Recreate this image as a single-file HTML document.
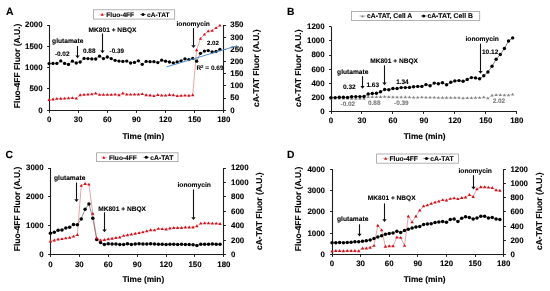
<!DOCTYPE html><html><head><meta charset="utf-8"><style>html,body{margin:0;padding:0;background:#fff;width:550px;height:291px;overflow:hidden}</style></head><body><svg width="550" height="291" viewBox="0 0 550 291" style="display:block;filter:blur(0.45px)">
<g font-family='"Liberation Sans", sans-serif' text-rendering="geometricPrecision">
<rect width="550" height="291" fill="#fff"/>
<text x="5.90" y="15.00" font-size="10.4" font-weight="bold" text-anchor="start" fill="#000" stroke="#000" stroke-width="0.12" >A</text>
<line x1="49.50" y1="25.00" x2="49.50" y2="111.10" stroke="#1e1e1e" stroke-width="1.1"/>
<line x1="47.10" y1="110.50" x2="49.50" y2="110.50" stroke="#1e1e1e" stroke-width="1.0"/>
<text x="42.60" y="112.60" font-size="7.9" font-weight="bold" text-anchor="end" fill="#000" stroke="#000" stroke-width="0.12" >0</text>
<line x1="47.10" y1="88.50" x2="49.50" y2="88.50" stroke="#1e1e1e" stroke-width="1.0"/>
<text x="42.60" y="91.30" font-size="7.9" font-weight="bold" text-anchor="end" fill="#000" stroke="#000" stroke-width="0.12" >500</text>
<line x1="47.10" y1="67.50" x2="49.50" y2="67.50" stroke="#1e1e1e" stroke-width="1.0"/>
<text x="42.60" y="70.00" font-size="7.9" font-weight="bold" text-anchor="end" fill="#000" stroke="#000" stroke-width="0.12" >1000</text>
<line x1="47.10" y1="46.50" x2="49.50" y2="46.50" stroke="#1e1e1e" stroke-width="1.0"/>
<text x="42.60" y="48.70" font-size="7.9" font-weight="bold" text-anchor="end" fill="#000" stroke="#000" stroke-width="0.12" >1500</text>
<line x1="47.10" y1="25.50" x2="49.50" y2="25.50" stroke="#1e1e1e" stroke-width="1.0"/>
<text x="42.60" y="27.40" font-size="7.9" font-weight="bold" text-anchor="end" fill="#000" stroke="#000" stroke-width="0.12" >2000</text>
<line x1="223.50" y1="25.00" x2="223.50" y2="111.10" stroke="#1e1e1e" stroke-width="1.1"/>
<line x1="223.50" y1="110.50" x2="225.90" y2="110.50" stroke="#1e1e1e" stroke-width="1.0"/>
<text x="230.30" y="112.60" font-size="7.9" font-weight="bold" text-anchor="start" fill="#000" stroke="#000" stroke-width="0.12" >0</text>
<line x1="223.50" y1="98.50" x2="225.90" y2="98.50" stroke="#1e1e1e" stroke-width="1.0"/>
<text x="230.30" y="100.43" font-size="7.9" font-weight="bold" text-anchor="start" fill="#000" stroke="#000" stroke-width="0.12" >50</text>
<line x1="223.50" y1="85.50" x2="225.90" y2="85.50" stroke="#1e1e1e" stroke-width="1.0"/>
<text x="230.30" y="88.26" font-size="7.9" font-weight="bold" text-anchor="start" fill="#000" stroke="#000" stroke-width="0.12" >100</text>
<line x1="223.50" y1="73.50" x2="225.90" y2="73.50" stroke="#1e1e1e" stroke-width="1.0"/>
<text x="230.30" y="76.09" font-size="7.9" font-weight="bold" text-anchor="start" fill="#000" stroke="#000" stroke-width="0.12" >150</text>
<line x1="223.50" y1="61.50" x2="225.90" y2="61.50" stroke="#1e1e1e" stroke-width="1.0"/>
<text x="230.30" y="63.91" font-size="7.9" font-weight="bold" text-anchor="start" fill="#000" stroke="#000" stroke-width="0.12" >200</text>
<line x1="223.50" y1="49.50" x2="225.90" y2="49.50" stroke="#1e1e1e" stroke-width="1.0"/>
<text x="230.30" y="51.74" font-size="7.9" font-weight="bold" text-anchor="start" fill="#000" stroke="#000" stroke-width="0.12" >250</text>
<line x1="223.50" y1="37.50" x2="225.90" y2="37.50" stroke="#1e1e1e" stroke-width="1.0"/>
<text x="230.30" y="39.57" font-size="7.9" font-weight="bold" text-anchor="start" fill="#000" stroke="#000" stroke-width="0.12" >300</text>
<line x1="223.50" y1="25.50" x2="225.90" y2="25.50" stroke="#1e1e1e" stroke-width="1.0"/>
<text x="230.30" y="27.40" font-size="7.9" font-weight="bold" text-anchor="start" fill="#000" stroke="#000" stroke-width="0.12" >350</text>
<line x1="49.00" y1="110.50" x2="224.00" y2="110.50" stroke="#1e1e1e" stroke-width="1.1"/>
<line x1="49.50" y1="110.50" x2="49.50" y2="112.90" stroke="#1e1e1e" stroke-width="1.0"/>
<text x="49.10" y="122.40" font-size="7.9" font-weight="bold" text-anchor="middle" fill="#000" stroke="#000" stroke-width="0.12" >0</text>
<line x1="78.50" y1="110.50" x2="78.50" y2="112.90" stroke="#1e1e1e" stroke-width="1.0"/>
<text x="78.22" y="122.40" font-size="7.9" font-weight="bold" text-anchor="middle" fill="#000" stroke="#000" stroke-width="0.12" >30</text>
<line x1="107.50" y1="110.50" x2="107.50" y2="112.90" stroke="#1e1e1e" stroke-width="1.0"/>
<text x="107.33" y="122.40" font-size="7.9" font-weight="bold" text-anchor="middle" fill="#000" stroke="#000" stroke-width="0.12" >60</text>
<line x1="136.50" y1="110.50" x2="136.50" y2="112.90" stroke="#1e1e1e" stroke-width="1.0"/>
<text x="136.45" y="122.40" font-size="7.9" font-weight="bold" text-anchor="middle" fill="#000" stroke="#000" stroke-width="0.12" >90</text>
<line x1="165.50" y1="110.50" x2="165.50" y2="112.90" stroke="#1e1e1e" stroke-width="1.0"/>
<text x="165.57" y="122.40" font-size="7.9" font-weight="bold" text-anchor="middle" fill="#000" stroke="#000" stroke-width="0.12" >120</text>
<line x1="194.50" y1="110.50" x2="194.50" y2="112.90" stroke="#1e1e1e" stroke-width="1.0"/>
<text x="194.68" y="122.40" font-size="7.9" font-weight="bold" text-anchor="middle" fill="#000" stroke="#000" stroke-width="0.12" >150</text>
<line x1="223.50" y1="110.50" x2="223.50" y2="112.90" stroke="#1e1e1e" stroke-width="1.0"/>
<text x="223.80" y="122.40" font-size="7.9" font-weight="bold" text-anchor="middle" fill="#000" stroke="#000" stroke-width="0.12" >180</text>
<text x="143.30" y="139.20" font-size="8.3" font-weight="bold" text-anchor="middle" fill="#000" stroke="#000" stroke-width="0.12" >Time (min)</text>
<text transform="translate(16.50,65.90) rotate(-90)" x="0" y="3.06" font-size="8.5" font-weight="bold" text-anchor="middle" fill="#000" stroke="#000" stroke-width="0.12">Fluo-4FF Fluor (A.U.)</text>
<text transform="translate(255.90,68.30) rotate(-90)" x="0" y="3.06" font-size="8.5" font-weight="bold" text-anchor="middle" fill="#000" stroke="#000" stroke-width="0.12">cA-TAT Fluor (A.U.)</text>
<rect x="93.50" y="9.80" width="81.20" height="9.30" fill="#fff" stroke="#a0a0a0" stroke-width="0.8"/>
<line x1="99.30" y1="14.30" x2="105.30" y2="14.30" stroke="#de8088" stroke-width="0.6"/>
<path d="M100.60 15.64L103.80 15.64L102.20 12.92Z" fill="#d0101a"/>
<text x="106.30" y="16.70" font-size="6.6" font-weight="bold" text-anchor="start" fill="#000" stroke="#000" stroke-width="0.1" >Fluo-4FF</text>
<line x1="140.30" y1="14.40" x2="145.80" y2="14.40" stroke="#000" stroke-width="0.6"/>
<circle cx="143.00" cy="14.40" r="1.5" fill="#000"/>
<text x="147.00" y="16.70" font-size="6.6" font-weight="bold" text-anchor="start" fill="#000" stroke="#000" stroke-width="0.1" >cA-TAT</text>
<polyline points="49.10,99.70 52.98,99.20 56.86,98.60 60.75,98.50 64.63,98.30 68.51,98.10 72.39,97.90 76.28,98.30 80.16,95.00 84.04,94.60 87.92,94.30 91.80,94.10 95.69,93.20 99.57,94.60 103.45,94.60 107.33,94.60 111.22,94.60 115.10,94.30 118.98,95.00 122.86,93.20 126.74,94.30 130.63,94.30 134.51,94.30 138.39,94.30 142.27,93.90 146.16,95.00 150.04,95.20 153.92,95.80 157.80,94.70 161.68,95.30 165.57,95.30 169.45,94.70 173.33,95.00 177.21,95.80 181.10,95.60 184.98,95.30 188.86,95.50 192.74,95.00 196.62,50.00 200.51,38.60 204.39,34.40 208.27,31.10 212.15,30.60 216.04,27.80 219.92,25.40" fill="none" stroke="#de8088" stroke-width="0.7"/>
<polyline points="49.10,63.60 52.98,63.40 56.86,63.40 60.75,60.90 64.63,63.40 68.51,64.40 72.39,61.20 76.28,63.00 80.16,62.00 84.04,58.40 87.92,58.60 91.80,58.90 95.69,59.00 99.57,56.20 103.45,58.60 107.33,57.00 111.22,58.60 115.10,60.30 118.98,61.10 122.86,61.40 126.74,61.10 130.63,63.00 134.51,62.40 138.39,60.80 142.27,64.30 146.16,61.40 150.04,61.70 153.92,61.70 157.80,62.60 161.68,60.20 165.57,61.20 169.45,62.00 173.33,62.90 177.21,62.00 181.10,60.80 184.98,58.80 188.86,59.60 192.74,58.40 196.62,61.20 200.51,53.30 204.39,51.10 208.27,50.60 212.15,51.90 216.04,51.50 219.92,49.40" fill="none" stroke="#444" stroke-width="0.5"/>
<circle cx="49.10" cy="63.60" r="1.65" fill="#000"/>
<circle cx="52.98" cy="63.40" r="1.65" fill="#000"/>
<circle cx="56.86" cy="63.40" r="1.65" fill="#000"/>
<circle cx="60.75" cy="60.90" r="1.65" fill="#000"/>
<circle cx="64.63" cy="63.40" r="1.65" fill="#000"/>
<circle cx="68.51" cy="64.40" r="1.65" fill="#000"/>
<circle cx="72.39" cy="61.20" r="1.65" fill="#000"/>
<circle cx="76.28" cy="63.00" r="1.65" fill="#000"/>
<circle cx="80.16" cy="62.00" r="1.65" fill="#000"/>
<circle cx="84.04" cy="58.40" r="1.65" fill="#000"/>
<circle cx="87.92" cy="58.60" r="1.65" fill="#000"/>
<circle cx="91.80" cy="58.90" r="1.65" fill="#000"/>
<circle cx="95.69" cy="59.00" r="1.65" fill="#000"/>
<circle cx="99.57" cy="56.20" r="1.65" fill="#000"/>
<circle cx="103.45" cy="58.60" r="1.65" fill="#000"/>
<circle cx="107.33" cy="57.00" r="1.65" fill="#000"/>
<circle cx="111.22" cy="58.60" r="1.65" fill="#000"/>
<circle cx="115.10" cy="60.30" r="1.65" fill="#000"/>
<circle cx="118.98" cy="61.10" r="1.65" fill="#000"/>
<circle cx="122.86" cy="61.40" r="1.65" fill="#000"/>
<circle cx="126.74" cy="61.10" r="1.65" fill="#000"/>
<circle cx="130.63" cy="63.00" r="1.65" fill="#000"/>
<circle cx="134.51" cy="62.40" r="1.65" fill="#000"/>
<circle cx="138.39" cy="60.80" r="1.65" fill="#000"/>
<circle cx="142.27" cy="64.30" r="1.65" fill="#000"/>
<circle cx="146.16" cy="61.40" r="1.65" fill="#000"/>
<circle cx="150.04" cy="61.70" r="1.65" fill="#000"/>
<circle cx="153.92" cy="61.70" r="1.65" fill="#000"/>
<circle cx="157.80" cy="62.60" r="1.65" fill="#000"/>
<circle cx="161.68" cy="60.20" r="1.65" fill="#000"/>
<circle cx="165.57" cy="61.20" r="1.65" fill="#000"/>
<circle cx="169.45" cy="62.00" r="1.65" fill="#000"/>
<circle cx="173.33" cy="62.90" r="1.65" fill="#000"/>
<circle cx="177.21" cy="62.00" r="1.65" fill="#000"/>
<circle cx="181.10" cy="60.80" r="1.65" fill="#000"/>
<circle cx="184.98" cy="58.80" r="1.65" fill="#000"/>
<circle cx="188.86" cy="59.60" r="1.65" fill="#000"/>
<circle cx="192.74" cy="58.40" r="1.65" fill="#000"/>
<circle cx="196.62" cy="61.20" r="1.65" fill="#000"/>
<circle cx="200.51" cy="53.30" r="1.65" fill="#000"/>
<circle cx="204.39" cy="51.10" r="1.65" fill="#000"/>
<circle cx="208.27" cy="50.60" r="1.65" fill="#000"/>
<circle cx="212.15" cy="51.90" r="1.65" fill="#000"/>
<circle cx="216.04" cy="51.50" r="1.65" fill="#000"/>
<circle cx="219.92" cy="49.40" r="1.65" fill="#000"/>
<path d="M47.45 100.88L50.75 100.88L49.10 98.07Z" fill="#d0101a"/>
<path d="M51.33 100.38L54.63 100.38L52.98 97.57Z" fill="#d0101a"/>
<path d="M55.21 99.78L58.51 99.78L56.86 96.97Z" fill="#d0101a"/>
<path d="M59.10 99.68L62.40 99.68L60.75 96.87Z" fill="#d0101a"/>
<path d="M62.98 99.48L66.28 99.48L64.63 96.67Z" fill="#d0101a"/>
<path d="M66.86 99.28L70.16 99.28L68.51 96.47Z" fill="#d0101a"/>
<path d="M70.74 99.08L74.04 99.08L72.39 96.27Z" fill="#d0101a"/>
<path d="M74.63 99.48L77.93 99.48L76.28 96.67Z" fill="#d0101a"/>
<path d="M78.51 96.18L81.81 96.18L80.16 93.37Z" fill="#d0101a"/>
<path d="M82.39 95.78L85.69 95.78L84.04 92.97Z" fill="#d0101a"/>
<path d="M86.27 95.48L89.57 95.48L87.92 92.67Z" fill="#d0101a"/>
<path d="M90.15 95.28L93.45 95.28L91.80 92.47Z" fill="#d0101a"/>
<path d="M94.04 94.38L97.34 94.38L95.69 91.57Z" fill="#d0101a"/>
<path d="M97.92 95.78L101.22 95.78L99.57 92.97Z" fill="#d0101a"/>
<path d="M101.80 95.78L105.10 95.78L103.45 92.97Z" fill="#d0101a"/>
<path d="M105.68 95.78L108.98 95.78L107.33 92.97Z" fill="#d0101a"/>
<path d="M109.57 95.78L112.87 95.78L111.22 92.97Z" fill="#d0101a"/>
<path d="M113.45 95.48L116.75 95.48L115.10 92.67Z" fill="#d0101a"/>
<path d="M117.33 96.18L120.63 96.18L118.98 93.37Z" fill="#d0101a"/>
<path d="M121.21 94.38L124.51 94.38L122.86 91.57Z" fill="#d0101a"/>
<path d="M125.09 95.48L128.39 95.48L126.74 92.67Z" fill="#d0101a"/>
<path d="M128.98 95.48L132.28 95.48L130.63 92.67Z" fill="#d0101a"/>
<path d="M132.86 95.48L136.16 95.48L134.51 92.67Z" fill="#d0101a"/>
<path d="M136.74 95.48L140.04 95.48L138.39 92.67Z" fill="#d0101a"/>
<path d="M140.62 95.08L143.92 95.08L142.27 92.27Z" fill="#d0101a"/>
<path d="M144.51 96.18L147.81 96.18L146.16 93.37Z" fill="#d0101a"/>
<path d="M148.39 96.38L151.69 96.38L150.04 93.57Z" fill="#d0101a"/>
<path d="M152.27 96.98L155.57 96.98L153.92 94.17Z" fill="#d0101a"/>
<path d="M156.15 95.88L159.45 95.88L157.80 93.07Z" fill="#d0101a"/>
<path d="M160.03 96.48L163.33 96.48L161.68 93.67Z" fill="#d0101a"/>
<path d="M163.92 96.48L167.22 96.48L165.57 93.67Z" fill="#d0101a"/>
<path d="M167.80 95.88L171.10 95.88L169.45 93.07Z" fill="#d0101a"/>
<path d="M171.68 96.18L174.98 96.18L173.33 93.37Z" fill="#d0101a"/>
<path d="M175.56 96.98L178.86 96.98L177.21 94.17Z" fill="#d0101a"/>
<path d="M179.45 96.78L182.75 96.78L181.10 93.97Z" fill="#d0101a"/>
<path d="M183.33 96.48L186.63 96.48L184.98 93.67Z" fill="#d0101a"/>
<path d="M187.21 96.68L190.51 96.68L188.86 93.87Z" fill="#d0101a"/>
<path d="M191.09 96.18L194.39 96.18L192.74 93.37Z" fill="#d0101a"/>
<path d="M194.97 51.18L198.27 51.18L196.62 48.37Z" fill="#d0101a"/>
<path d="M198.86 39.78L202.16 39.78L200.51 36.97Z" fill="#d0101a"/>
<path d="M202.74 35.58L206.04 35.58L204.39 32.77Z" fill="#d0101a"/>
<path d="M206.62 32.28L209.92 32.28L208.27 29.47Z" fill="#d0101a"/>
<path d="M210.50 31.78L213.80 31.78L212.15 28.97Z" fill="#d0101a"/>
<path d="M214.39 28.98L217.69 28.98L216.04 26.17Z" fill="#d0101a"/>
<path d="M218.27 26.58L221.57 26.58L219.92 23.77Z" fill="#d0101a"/>
<line x1="166.50" y1="66.90" x2="237.00" y2="45.80" stroke="#4f8fca" stroke-width="1.0"/>
<text x="52.10" y="43.40" font-size="6.65" font-weight="bold" text-anchor="start" fill="#000" stroke="#000" stroke-width="0.1" >glutamate</text>
<line x1="77.50" y1="46.00" x2="77.50" y2="56.00" stroke="#111" stroke-width="1.1"/>
<path d="M75.30 55.50L79.70 55.50L77.50 58.30Z" fill="#111"/>
<text x="54.90" y="56.00" font-size="6.4" font-weight="bold" text-anchor="start" fill="#000" stroke="#000" stroke-width="0.1" >-0.02</text>
<text x="83.00" y="52.70" font-size="6.4" font-weight="bold" text-anchor="start" fill="#000" stroke="#000" stroke-width="0.1" >0.88</text>
<text x="88.60" y="32.00" font-size="6.6" font-weight="bold" text-anchor="start" fill="#000" stroke="#000" stroke-width="0.1" >MK801 + NBQX</text>
<line x1="102.50" y1="33.50" x2="102.50" y2="51.00" stroke="#111" stroke-width="1.1"/>
<path d="M100.30 50.50L104.70 50.50L102.50 53.30Z" fill="#111"/>
<text x="109.60" y="52.70" font-size="6.3" font-weight="bold" text-anchor="start" fill="#000" stroke="#000" stroke-width="0.1" >-0.39</text>
<text x="176.50" y="25.60" font-size="6.7" font-weight="bold" text-anchor="start" fill="#000" stroke="#000" stroke-width="0.1" >ionomycin</text>
<line x1="193.50" y1="28.00" x2="193.50" y2="45.70" stroke="#111" stroke-width="1.1"/>
<path d="M191.30 45.20L195.70 45.20L193.50 48.00Z" fill="#111"/>
<text x="207.00" y="44.80" font-size="6.1" font-weight="bold" text-anchor="start" fill="#000" stroke="#000" stroke-width="0.1" >2.02</text>
<text x="196.4" y="69.8" font-size="6.5" font-weight="bold" fill="#000" stroke="#000" stroke-width="0.06">R<tspan font-size="4.3" dy="-2.3">2</tspan><tspan dy="2.3"> = 0.69</tspan></text>
<text x="286.90" y="14.80" font-size="10.3" font-weight="bold" text-anchor="start" fill="#000" stroke="#000" stroke-width="0.12" >B</text>
<line x1="331.50" y1="26.90" x2="331.50" y2="112.10" stroke="#1e1e1e" stroke-width="1.1"/>
<line x1="329.10" y1="111.50" x2="331.50" y2="111.50" stroke="#1e1e1e" stroke-width="1.0"/>
<text x="324.60" y="113.70" font-size="7.9" font-weight="bold" text-anchor="end" fill="#000" stroke="#000" stroke-width="0.12" >0</text>
<line x1="329.10" y1="97.50" x2="331.50" y2="97.50" stroke="#1e1e1e" stroke-width="1.0"/>
<text x="324.60" y="99.63" font-size="7.9" font-weight="bold" text-anchor="end" fill="#000" stroke="#000" stroke-width="0.12" >200</text>
<line x1="329.10" y1="83.50" x2="331.50" y2="83.50" stroke="#1e1e1e" stroke-width="1.0"/>
<text x="324.60" y="85.57" font-size="7.9" font-weight="bold" text-anchor="end" fill="#000" stroke="#000" stroke-width="0.12" >400</text>
<line x1="329.10" y1="69.50" x2="331.50" y2="69.50" stroke="#1e1e1e" stroke-width="1.0"/>
<text x="324.60" y="71.50" font-size="7.9" font-weight="bold" text-anchor="end" fill="#000" stroke="#000" stroke-width="0.12" >600</text>
<line x1="329.10" y1="55.50" x2="331.50" y2="55.50" stroke="#1e1e1e" stroke-width="1.0"/>
<text x="324.60" y="57.43" font-size="7.9" font-weight="bold" text-anchor="end" fill="#000" stroke="#000" stroke-width="0.12" >800</text>
<line x1="329.10" y1="40.50" x2="331.50" y2="40.50" stroke="#1e1e1e" stroke-width="1.0"/>
<text x="324.60" y="43.37" font-size="7.9" font-weight="bold" text-anchor="end" fill="#000" stroke="#000" stroke-width="0.12" >1000</text>
<line x1="329.10" y1="26.50" x2="331.50" y2="26.50" stroke="#1e1e1e" stroke-width="1.0"/>
<text x="324.60" y="29.30" font-size="7.9" font-weight="bold" text-anchor="end" fill="#000" stroke="#000" stroke-width="0.12" >1200</text>
<line x1="331.00" y1="111.50" x2="517.00" y2="111.50" stroke="#1e1e1e" stroke-width="1.1"/>
<line x1="331.50" y1="111.50" x2="331.50" y2="113.90" stroke="#1e1e1e" stroke-width="1.0"/>
<text x="331.00" y="123.20" font-size="7.9" font-weight="bold" text-anchor="middle" fill="#000" stroke="#000" stroke-width="0.12" >0</text>
<line x1="361.50" y1="111.50" x2="361.50" y2="113.90" stroke="#1e1e1e" stroke-width="1.0"/>
<text x="361.97" y="123.20" font-size="7.9" font-weight="bold" text-anchor="middle" fill="#000" stroke="#000" stroke-width="0.12" >30</text>
<line x1="392.50" y1="111.50" x2="392.50" y2="113.90" stroke="#1e1e1e" stroke-width="1.0"/>
<text x="392.93" y="123.20" font-size="7.9" font-weight="bold" text-anchor="middle" fill="#000" stroke="#000" stroke-width="0.12" >60</text>
<line x1="423.50" y1="111.50" x2="423.50" y2="113.90" stroke="#1e1e1e" stroke-width="1.0"/>
<text x="423.90" y="123.20" font-size="7.9" font-weight="bold" text-anchor="middle" fill="#000" stroke="#000" stroke-width="0.12" >90</text>
<line x1="454.50" y1="111.50" x2="454.50" y2="113.90" stroke="#1e1e1e" stroke-width="1.0"/>
<text x="454.87" y="123.20" font-size="7.9" font-weight="bold" text-anchor="middle" fill="#000" stroke="#000" stroke-width="0.12" >120</text>
<line x1="485.50" y1="111.50" x2="485.50" y2="113.90" stroke="#1e1e1e" stroke-width="1.0"/>
<text x="485.83" y="123.20" font-size="7.9" font-weight="bold" text-anchor="middle" fill="#000" stroke="#000" stroke-width="0.12" >150</text>
<line x1="516.50" y1="111.50" x2="516.50" y2="113.90" stroke="#1e1e1e" stroke-width="1.0"/>
<text x="516.80" y="123.20" font-size="7.9" font-weight="bold" text-anchor="middle" fill="#000" stroke="#000" stroke-width="0.12" >180</text>
<text x="424.60" y="139.40" font-size="8.3" font-weight="bold" text-anchor="middle" fill="#000" stroke="#000" stroke-width="0.12" >Time (min)</text>
<text transform="translate(298.20,68.30) rotate(-90)" x="0" y="3.06" font-size="8.5" font-weight="bold" text-anchor="middle" fill="#000" stroke="#000" stroke-width="0.12">cA-TAT Fluor (A.U.)</text>
<rect x="351.50" y="11.50" width="128.20" height="9.00" fill="#fff" stroke="#a0a0a0" stroke-width="0.8"/>
<line x1="359.50" y1="16.00" x2="365.50" y2="16.00" stroke="#767676" stroke-width="0.6"/>
<path d="M361.20 17.13L363.80 17.13L362.50 14.92Z" fill="#767676"/>
<text x="367.10" y="18.40" font-size="6.8" font-weight="bold" text-anchor="start" fill="#000" stroke="#000" stroke-width="0.1" >cA-TAT, Cell A</text>
<line x1="421.00" y1="16.00" x2="426.50" y2="16.00" stroke="#000" stroke-width="0.6"/>
<circle cx="423.70" cy="16.00" r="1.5" fill="#000"/>
<text x="427.40" y="18.40" font-size="6.8" font-weight="bold" text-anchor="start" fill="#000" stroke="#000" stroke-width="0.1" >cA-TAT, Cell B</text>
<polyline points="331.00,98.30 335.13,98.30 339.26,98.30 343.39,98.30 347.52,98.30 351.64,98.60 355.77,98.60 359.90,98.60 364.03,98.60 368.16,96.80 372.29,96.80 376.42,96.90 380.55,96.80 384.68,96.60 388.80,96.80 392.93,97.00 397.06,97.00 401.19,97.00 405.32,97.20 409.45,97.20 413.58,97.40 417.71,97.40 421.84,97.20 425.96,97.40 430.09,97.40 434.22,97.40 438.35,97.60 442.48,97.60 446.61,97.60 450.74,97.60 454.87,97.60 459.00,97.60 463.12,98.10 467.25,97.90 471.38,97.90 475.51,97.50 479.64,97.50 483.77,97.20 487.90,98.10 492.03,95.40 496.16,94.80 500.28,94.80 504.41,95.00 508.54,95.00 512.67,94.30" fill="none" stroke="#b0b0b0" stroke-width="0.5"/>
<polyline points="331.00,97.70 335.13,97.60 339.26,97.30 343.39,97.30 347.52,97.40 351.64,96.70 355.77,96.60 359.90,96.60 364.03,96.50 368.16,94.00 372.29,93.50 376.42,93.30 380.55,91.80 384.68,89.50 388.80,89.80 392.93,88.50 397.06,88.50 401.19,87.60 405.32,87.60 409.45,87.40 413.58,86.70 417.71,86.40 421.84,86.40 425.96,84.60 430.09,85.70 434.22,83.10 438.35,83.70 442.48,82.70 446.61,84.80 450.74,82.30 454.87,80.90 459.00,80.60 463.12,81.30 467.25,79.50 471.38,77.60 475.51,77.90 479.64,78.80 483.77,75.80 487.90,72.00 492.03,66.30 496.16,59.30 500.28,54.50 504.41,48.50 508.54,41.00 512.67,37.90" fill="none" stroke="#333" stroke-width="0.6"/>
<path d="M329.40 99.44L332.60 99.44L331.00 96.72Z" fill="#858585"/>
<path d="M333.53 99.44L336.73 99.44L335.13 96.72Z" fill="#858585"/>
<path d="M337.66 99.44L340.86 99.44L339.26 96.72Z" fill="#858585"/>
<path d="M341.79 99.44L344.99 99.44L343.39 96.72Z" fill="#858585"/>
<path d="M345.92 99.44L349.12 99.44L347.52 96.72Z" fill="#858585"/>
<path d="M350.04 99.74L353.24 99.74L351.64 97.02Z" fill="#858585"/>
<path d="M354.17 99.74L357.37 99.74L355.77 97.02Z" fill="#858585"/>
<path d="M358.30 99.74L361.50 99.74L359.90 97.02Z" fill="#858585"/>
<path d="M362.43 99.74L365.63 99.74L364.03 97.02Z" fill="#858585"/>
<path d="M366.56 97.94L369.76 97.94L368.16 95.22Z" fill="#858585"/>
<path d="M370.69 97.94L373.89 97.94L372.29 95.22Z" fill="#858585"/>
<path d="M374.82 98.04L378.02 98.04L376.42 95.32Z" fill="#858585"/>
<path d="M378.95 97.94L382.15 97.94L380.55 95.22Z" fill="#858585"/>
<path d="M383.08 97.74L386.28 97.74L384.68 95.02Z" fill="#858585"/>
<path d="M387.20 97.94L390.40 97.94L388.80 95.22Z" fill="#858585"/>
<path d="M391.33 98.14L394.53 98.14L392.93 95.42Z" fill="#858585"/>
<path d="M395.46 98.14L398.66 98.14L397.06 95.42Z" fill="#858585"/>
<path d="M399.59 98.14L402.79 98.14L401.19 95.42Z" fill="#858585"/>
<path d="M403.72 98.34L406.92 98.34L405.32 95.62Z" fill="#858585"/>
<path d="M407.85 98.34L411.05 98.34L409.45 95.62Z" fill="#858585"/>
<path d="M411.98 98.54L415.18 98.54L413.58 95.82Z" fill="#858585"/>
<path d="M416.11 98.54L419.31 98.54L417.71 95.82Z" fill="#858585"/>
<path d="M420.24 98.34L423.44 98.34L421.84 95.62Z" fill="#858585"/>
<path d="M424.36 98.54L427.56 98.54L425.96 95.82Z" fill="#858585"/>
<path d="M428.49 98.54L431.69 98.54L430.09 95.82Z" fill="#858585"/>
<path d="M432.62 98.54L435.82 98.54L434.22 95.82Z" fill="#858585"/>
<path d="M436.75 98.74L439.95 98.74L438.35 96.02Z" fill="#858585"/>
<path d="M440.88 98.74L444.08 98.74L442.48 96.02Z" fill="#858585"/>
<path d="M445.01 98.74L448.21 98.74L446.61 96.02Z" fill="#858585"/>
<path d="M449.14 98.74L452.34 98.74L450.74 96.02Z" fill="#858585"/>
<path d="M453.27 98.74L456.47 98.74L454.87 96.02Z" fill="#858585"/>
<path d="M457.40 98.74L460.60 98.74L459.00 96.02Z" fill="#858585"/>
<path d="M461.52 99.24L464.72 99.24L463.12 96.52Z" fill="#858585"/>
<path d="M465.65 99.04L468.85 99.04L467.25 96.32Z" fill="#858585"/>
<path d="M469.78 99.04L472.98 99.04L471.38 96.32Z" fill="#858585"/>
<path d="M473.91 98.64L477.11 98.64L475.51 95.92Z" fill="#858585"/>
<path d="M478.04 98.64L481.24 98.64L479.64 95.92Z" fill="#858585"/>
<path d="M482.17 98.34L485.37 98.34L483.77 95.62Z" fill="#858585"/>
<path d="M486.30 99.24L489.50 99.24L487.90 96.52Z" fill="#858585"/>
<path d="M490.43 96.54L493.63 96.54L492.03 93.82Z" fill="#858585"/>
<path d="M494.56 95.94L497.76 95.94L496.16 93.22Z" fill="#858585"/>
<path d="M498.68 95.94L501.88 95.94L500.28 93.22Z" fill="#858585"/>
<path d="M502.81 96.14L506.01 96.14L504.41 93.42Z" fill="#858585"/>
<path d="M506.94 96.14L510.14 96.14L508.54 93.42Z" fill="#858585"/>
<path d="M511.07 95.44L514.27 95.44L512.67 92.72Z" fill="#858585"/>
<circle cx="331.00" cy="97.70" r="1.7" fill="#000"/>
<circle cx="335.13" cy="97.60" r="1.7" fill="#000"/>
<circle cx="339.26" cy="97.30" r="1.7" fill="#000"/>
<circle cx="343.39" cy="97.30" r="1.7" fill="#000"/>
<circle cx="347.52" cy="97.40" r="1.7" fill="#000"/>
<circle cx="351.64" cy="96.70" r="1.7" fill="#000"/>
<circle cx="355.77" cy="96.60" r="1.7" fill="#000"/>
<circle cx="359.90" cy="96.60" r="1.7" fill="#000"/>
<circle cx="364.03" cy="96.50" r="1.7" fill="#000"/>
<circle cx="368.16" cy="94.00" r="1.7" fill="#000"/>
<circle cx="372.29" cy="93.50" r="1.7" fill="#000"/>
<circle cx="376.42" cy="93.30" r="1.7" fill="#000"/>
<circle cx="380.55" cy="91.80" r="1.7" fill="#000"/>
<circle cx="384.68" cy="89.50" r="1.7" fill="#000"/>
<circle cx="388.80" cy="89.80" r="1.7" fill="#000"/>
<circle cx="392.93" cy="88.50" r="1.7" fill="#000"/>
<circle cx="397.06" cy="88.50" r="1.7" fill="#000"/>
<circle cx="401.19" cy="87.60" r="1.7" fill="#000"/>
<circle cx="405.32" cy="87.60" r="1.7" fill="#000"/>
<circle cx="409.45" cy="87.40" r="1.7" fill="#000"/>
<circle cx="413.58" cy="86.70" r="1.7" fill="#000"/>
<circle cx="417.71" cy="86.40" r="1.7" fill="#000"/>
<circle cx="421.84" cy="86.40" r="1.7" fill="#000"/>
<circle cx="425.96" cy="84.60" r="1.7" fill="#000"/>
<circle cx="430.09" cy="85.70" r="1.7" fill="#000"/>
<circle cx="434.22" cy="83.10" r="1.7" fill="#000"/>
<circle cx="438.35" cy="83.70" r="1.7" fill="#000"/>
<circle cx="442.48" cy="82.70" r="1.7" fill="#000"/>
<circle cx="446.61" cy="84.80" r="1.7" fill="#000"/>
<circle cx="450.74" cy="82.30" r="1.7" fill="#000"/>
<circle cx="454.87" cy="80.90" r="1.7" fill="#000"/>
<circle cx="459.00" cy="80.60" r="1.7" fill="#000"/>
<circle cx="463.12" cy="81.30" r="1.7" fill="#000"/>
<circle cx="467.25" cy="79.50" r="1.7" fill="#000"/>
<circle cx="471.38" cy="77.60" r="1.7" fill="#000"/>
<circle cx="475.51" cy="77.90" r="1.7" fill="#000"/>
<circle cx="479.64" cy="78.80" r="1.7" fill="#000"/>
<circle cx="483.77" cy="75.80" r="1.7" fill="#000"/>
<circle cx="487.90" cy="72.00" r="1.7" fill="#000"/>
<circle cx="492.03" cy="66.30" r="1.7" fill="#000"/>
<circle cx="496.16" cy="59.30" r="1.7" fill="#000"/>
<circle cx="500.28" cy="54.50" r="1.7" fill="#000"/>
<circle cx="504.41" cy="48.50" r="1.7" fill="#000"/>
<circle cx="508.54" cy="41.00" r="1.7" fill="#000"/>
<circle cx="512.67" cy="37.90" r="1.7" fill="#000"/>
<text x="337.10" y="73.50" font-size="6.65" font-weight="bold" text-anchor="start" fill="#000" stroke="#000" stroke-width="0.1" >glutamate</text>
<line x1="362.50" y1="76.20" x2="362.50" y2="86.40" stroke="#111" stroke-width="1.1"/>
<path d="M360.30 85.90L364.70 85.90L362.50 88.70Z" fill="#111"/>
<text x="343.00" y="88.70" font-size="6.5" font-weight="bold" text-anchor="start" fill="#000" stroke="#000" stroke-width="0.1" >0.32</text>
<text x="366.40" y="86.50" font-size="6.5" font-weight="bold" text-anchor="start" fill="#000" stroke="#000" stroke-width="0.1" >1.63</text>
<text x="340.60" y="105.80" font-size="6.4" font-weight="bold" text-anchor="start" fill="#7a7a7a" stroke="#7a7a7a" stroke-width="0.1" >-0.02</text>
<text x="368.00" y="105.00" font-size="6.4" font-weight="bold" text-anchor="start" fill="#7a7a7a" stroke="#7a7a7a" stroke-width="0.1" >0.88</text>
<text x="370.20" y="63.10" font-size="6.6" font-weight="bold" text-anchor="start" fill="#000" stroke="#000" stroke-width="0.1" >MK801 + NBQX</text>
<line x1="384.50" y1="65.30" x2="384.50" y2="83.00" stroke="#111" stroke-width="1.1"/>
<path d="M382.30 82.50L386.70 82.50L384.50 85.30Z" fill="#111"/>
<text x="396.20" y="83.90" font-size="6.4" font-weight="bold" text-anchor="start" fill="#000" stroke="#000" stroke-width="0.1" >1.34</text>
<text x="394.00" y="104.80" font-size="6.4" font-weight="bold" text-anchor="start" fill="#7a7a7a" stroke="#7a7a7a" stroke-width="0.1" >-0.39</text>
<text x="465.50" y="41.00" font-size="6.7" font-weight="bold" text-anchor="start" fill="#000" stroke="#000" stroke-width="0.1" >ionomycin</text>
<line x1="480.50" y1="43.60" x2="480.50" y2="71.40" stroke="#111" stroke-width="1.1"/>
<path d="M478.30 70.90L482.70 70.90L480.50 73.70Z" fill="#111"/>
<text x="482.00" y="53.50" font-size="6.5" font-weight="bold" text-anchor="start" fill="#000" stroke="#000" stroke-width="0.1" >10.12</text>
<text x="492.70" y="103.20" font-size="6.4" font-weight="bold" text-anchor="start" fill="#7a7a7a" stroke="#7a7a7a" stroke-width="0.1" >2.02</text>
<text x="5.60" y="158.30" font-size="10.4" font-weight="bold" text-anchor="start" fill="#000" stroke="#000" stroke-width="0.12" >C</text>
<line x1="50.50" y1="168.00" x2="50.50" y2="255.10" stroke="#1e1e1e" stroke-width="1.1"/>
<line x1="48.10" y1="254.50" x2="50.50" y2="254.50" stroke="#1e1e1e" stroke-width="1.0"/>
<text x="43.60" y="257.10" font-size="7.9" font-weight="bold" text-anchor="end" fill="#000" stroke="#000" stroke-width="0.12" >0</text>
<line x1="48.10" y1="225.50" x2="50.50" y2="225.50" stroke="#1e1e1e" stroke-width="1.0"/>
<text x="43.60" y="228.20" font-size="7.9" font-weight="bold" text-anchor="end" fill="#000" stroke="#000" stroke-width="0.12" >1000</text>
<line x1="48.10" y1="196.50" x2="50.50" y2="196.50" stroke="#1e1e1e" stroke-width="1.0"/>
<text x="43.60" y="199.30" font-size="7.9" font-weight="bold" text-anchor="end" fill="#000" stroke="#000" stroke-width="0.12" >2000</text>
<line x1="48.10" y1="168.50" x2="50.50" y2="168.50" stroke="#1e1e1e" stroke-width="1.0"/>
<text x="43.60" y="170.40" font-size="7.9" font-weight="bold" text-anchor="end" fill="#000" stroke="#000" stroke-width="0.12" >3000</text>
<line x1="223.50" y1="168.00" x2="223.50" y2="255.10" stroke="#1e1e1e" stroke-width="1.1"/>
<line x1="223.50" y1="254.50" x2="225.90" y2="254.50" stroke="#1e1e1e" stroke-width="1.0"/>
<text x="231.00" y="257.10" font-size="7.9" font-weight="bold" text-anchor="start" fill="#000" stroke="#000" stroke-width="0.12" >0</text>
<line x1="223.50" y1="240.50" x2="225.90" y2="240.50" stroke="#1e1e1e" stroke-width="1.0"/>
<text x="231.00" y="242.65" font-size="7.9" font-weight="bold" text-anchor="start" fill="#000" stroke="#000" stroke-width="0.12" >200</text>
<line x1="223.50" y1="225.50" x2="225.90" y2="225.50" stroke="#1e1e1e" stroke-width="1.0"/>
<text x="231.00" y="228.20" font-size="7.9" font-weight="bold" text-anchor="start" fill="#000" stroke="#000" stroke-width="0.12" >400</text>
<line x1="223.50" y1="211.50" x2="225.90" y2="211.50" stroke="#1e1e1e" stroke-width="1.0"/>
<text x="231.00" y="213.75" font-size="7.9" font-weight="bold" text-anchor="start" fill="#000" stroke="#000" stroke-width="0.12" >600</text>
<line x1="223.50" y1="196.50" x2="225.90" y2="196.50" stroke="#1e1e1e" stroke-width="1.0"/>
<text x="231.00" y="199.30" font-size="7.9" font-weight="bold" text-anchor="start" fill="#000" stroke="#000" stroke-width="0.12" >800</text>
<line x1="223.50" y1="182.50" x2="225.90" y2="182.50" stroke="#1e1e1e" stroke-width="1.0"/>
<text x="231.00" y="184.85" font-size="7.9" font-weight="bold" text-anchor="start" fill="#000" stroke="#000" stroke-width="0.12" >1000</text>
<line x1="223.50" y1="168.50" x2="225.90" y2="168.50" stroke="#1e1e1e" stroke-width="1.0"/>
<text x="231.00" y="170.40" font-size="7.9" font-weight="bold" text-anchor="start" fill="#000" stroke="#000" stroke-width="0.12" >1200</text>
<line x1="50.00" y1="254.50" x2="224.00" y2="254.50" stroke="#1e1e1e" stroke-width="1.1"/>
<line x1="50.50" y1="254.50" x2="50.50" y2="256.90" stroke="#1e1e1e" stroke-width="1.0"/>
<text x="50.40" y="266.70" font-size="7.9" font-weight="bold" text-anchor="middle" fill="#000" stroke="#000" stroke-width="0.12" >0</text>
<line x1="79.50" y1="254.50" x2="79.50" y2="256.90" stroke="#1e1e1e" stroke-width="1.0"/>
<text x="79.32" y="266.70" font-size="7.9" font-weight="bold" text-anchor="middle" fill="#000" stroke="#000" stroke-width="0.12" >30</text>
<line x1="108.50" y1="254.50" x2="108.50" y2="256.90" stroke="#1e1e1e" stroke-width="1.0"/>
<text x="108.23" y="266.70" font-size="7.9" font-weight="bold" text-anchor="middle" fill="#000" stroke="#000" stroke-width="0.12" >60</text>
<line x1="137.50" y1="254.50" x2="137.50" y2="256.90" stroke="#1e1e1e" stroke-width="1.0"/>
<text x="137.15" y="266.70" font-size="7.9" font-weight="bold" text-anchor="middle" fill="#000" stroke="#000" stroke-width="0.12" >90</text>
<line x1="166.50" y1="254.50" x2="166.50" y2="256.90" stroke="#1e1e1e" stroke-width="1.0"/>
<text x="166.07" y="266.70" font-size="7.9" font-weight="bold" text-anchor="middle" fill="#000" stroke="#000" stroke-width="0.12" >120</text>
<line x1="194.50" y1="254.50" x2="194.50" y2="256.90" stroke="#1e1e1e" stroke-width="1.0"/>
<text x="194.98" y="266.70" font-size="7.9" font-weight="bold" text-anchor="middle" fill="#000" stroke="#000" stroke-width="0.12" >150</text>
<line x1="223.50" y1="254.50" x2="223.50" y2="256.90" stroke="#1e1e1e" stroke-width="1.0"/>
<text x="223.90" y="266.70" font-size="7.9" font-weight="bold" text-anchor="middle" fill="#000" stroke="#000" stroke-width="0.12" >180</text>
<text x="143.30" y="282.40" font-size="8.3" font-weight="bold" text-anchor="middle" fill="#000" stroke="#000" stroke-width="0.12" >Time (min)</text>
<text transform="translate(16.50,209.00) rotate(-90)" x="0" y="3.06" font-size="8.5" font-weight="bold" text-anchor="middle" fill="#000" stroke="#000" stroke-width="0.12">Fluo-4FF Fluor (A.U.)</text>
<text transform="translate(258.70,211.20) rotate(-90)" x="0" y="3.06" font-size="8.5" font-weight="bold" text-anchor="middle" fill="#000" stroke="#000" stroke-width="0.12">cA-TAT Fluor (A.U.)</text>
<rect x="96.60" y="152.80" width="81.40" height="8.80" fill="#fff" stroke="#a0a0a0" stroke-width="0.8"/>
<line x1="101.00" y1="157.30" x2="107.00" y2="157.30" stroke="#de8088" stroke-width="0.6"/>
<path d="M102.20 158.64L105.40 158.64L103.80 155.92Z" fill="#d0101a"/>
<text x="109.00" y="159.60" font-size="6.6" font-weight="bold" text-anchor="start" fill="#000" stroke="#000" stroke-width="0.1" >Fluo-4FF</text>
<line x1="143.60" y1="157.30" x2="149.10" y2="157.30" stroke="#000" stroke-width="0.6"/>
<circle cx="146.30" cy="157.30" r="1.5" fill="#000"/>
<text x="150.30" y="159.60" font-size="6.75" font-weight="bold" text-anchor="start" fill="#000" stroke="#000" stroke-width="0.1" >cA-TAT</text>
<polyline points="50.40,241.30 54.26,240.20 58.11,239.20 61.97,238.90 65.82,238.10 69.68,237.50 73.53,236.40 77.39,234.70 81.24,185.60 85.10,183.80 88.96,184.40 92.81,213.60 96.67,238.00 100.52,240.20 104.38,239.80 108.23,239.00 112.09,238.50 115.94,237.70 119.80,237.20 123.66,235.60 127.51,235.00 131.37,234.30 135.22,233.50 139.08,232.90 142.93,232.10 146.79,231.00 150.64,230.00 154.50,230.10 158.36,228.60 162.21,228.90 166.07,229.20 169.92,228.20 173.78,227.70 177.63,227.70 181.49,227.70 185.34,227.20 189.20,227.20 193.06,227.20 196.91,226.00 200.77,223.40 204.62,223.10 208.48,223.10 212.33,223.40 216.19,223.40 220.04,223.80" fill="none" stroke="#de8088" stroke-width="0.7"/>
<polyline points="50.40,233.20 54.26,232.30 58.11,230.30 61.97,230.00 65.82,228.00 69.68,227.30 73.53,224.60 77.39,224.70 81.24,218.90 85.10,209.30 88.96,203.90 92.81,218.30 96.67,239.40 100.52,242.60 104.38,244.40 108.23,243.80 112.09,244.10 115.94,244.10 119.80,244.40 123.66,244.60 127.51,243.80 131.37,244.40 135.22,244.10 139.08,243.80 142.93,244.10 146.79,244.10 150.64,243.80 154.50,244.10 158.36,244.30 162.21,244.20 166.07,244.40 169.92,244.30 173.78,244.20 177.63,244.40 181.49,244.30 185.34,244.50 189.20,244.60 193.06,244.70 196.91,245.40 200.77,244.30 204.62,244.20 208.48,244.20 212.33,244.10 216.19,244.20 220.04,244.20" fill="none" stroke="#444" stroke-width="0.6"/>
<circle cx="50.40" cy="233.20" r="1.75" fill="#000"/>
<circle cx="54.26" cy="232.30" r="1.75" fill="#000"/>
<circle cx="58.11" cy="230.30" r="1.75" fill="#000"/>
<circle cx="61.97" cy="230.00" r="1.75" fill="#000"/>
<circle cx="65.82" cy="228.00" r="1.75" fill="#000"/>
<circle cx="69.68" cy="227.30" r="1.75" fill="#000"/>
<circle cx="73.53" cy="224.60" r="1.75" fill="#000"/>
<circle cx="77.39" cy="224.70" r="1.75" fill="#000"/>
<circle cx="81.24" cy="218.90" r="1.75" fill="#000"/>
<circle cx="85.10" cy="209.30" r="1.75" fill="#000"/>
<circle cx="88.96" cy="203.90" r="1.75" fill="#000"/>
<circle cx="92.81" cy="218.30" r="1.75" fill="#000"/>
<circle cx="96.67" cy="239.40" r="1.75" fill="#000"/>
<circle cx="100.52" cy="242.60" r="1.75" fill="#000"/>
<circle cx="104.38" cy="244.40" r="1.75" fill="#000"/>
<circle cx="108.23" cy="243.80" r="1.75" fill="#000"/>
<circle cx="112.09" cy="244.10" r="1.75" fill="#000"/>
<circle cx="115.94" cy="244.10" r="1.75" fill="#000"/>
<circle cx="119.80" cy="244.40" r="1.75" fill="#000"/>
<circle cx="123.66" cy="244.60" r="1.75" fill="#000"/>
<circle cx="127.51" cy="243.80" r="1.75" fill="#000"/>
<circle cx="131.37" cy="244.40" r="1.75" fill="#000"/>
<circle cx="135.22" cy="244.10" r="1.75" fill="#000"/>
<circle cx="139.08" cy="243.80" r="1.75" fill="#000"/>
<circle cx="142.93" cy="244.10" r="1.75" fill="#000"/>
<circle cx="146.79" cy="244.10" r="1.75" fill="#000"/>
<circle cx="150.64" cy="243.80" r="1.75" fill="#000"/>
<circle cx="154.50" cy="244.10" r="1.75" fill="#000"/>
<circle cx="158.36" cy="244.30" r="1.75" fill="#000"/>
<circle cx="162.21" cy="244.20" r="1.75" fill="#000"/>
<circle cx="166.07" cy="244.40" r="1.75" fill="#000"/>
<circle cx="169.92" cy="244.30" r="1.75" fill="#000"/>
<circle cx="173.78" cy="244.20" r="1.75" fill="#000"/>
<circle cx="177.63" cy="244.40" r="1.75" fill="#000"/>
<circle cx="181.49" cy="244.30" r="1.75" fill="#000"/>
<circle cx="185.34" cy="244.50" r="1.75" fill="#000"/>
<circle cx="189.20" cy="244.60" r="1.75" fill="#000"/>
<circle cx="193.06" cy="244.70" r="1.75" fill="#000"/>
<circle cx="196.91" cy="245.40" r="1.75" fill="#000"/>
<circle cx="200.77" cy="244.30" r="1.75" fill="#000"/>
<circle cx="204.62" cy="244.20" r="1.75" fill="#000"/>
<circle cx="208.48" cy="244.20" r="1.75" fill="#000"/>
<circle cx="212.33" cy="244.10" r="1.75" fill="#000"/>
<circle cx="216.19" cy="244.20" r="1.75" fill="#000"/>
<circle cx="220.04" cy="244.20" r="1.75" fill="#000"/>
<path d="M48.70 242.51L52.10 242.51L50.40 239.62Z" fill="#d0101a"/>
<path d="M52.56 241.41L55.96 241.41L54.26 238.52Z" fill="#d0101a"/>
<path d="M56.41 240.41L59.81 240.41L58.11 237.52Z" fill="#d0101a"/>
<path d="M60.27 240.11L63.67 240.11L61.97 237.22Z" fill="#d0101a"/>
<path d="M64.12 239.31L67.52 239.31L65.82 236.42Z" fill="#d0101a"/>
<path d="M67.98 238.71L71.38 238.71L69.68 235.82Z" fill="#d0101a"/>
<path d="M71.83 237.61L75.23 237.61L73.53 234.72Z" fill="#d0101a"/>
<path d="M75.69 235.91L79.09 235.91L77.39 233.02Z" fill="#d0101a"/>
<path d="M79.54 186.81L82.94 186.81L81.24 183.92Z" fill="#d0101a"/>
<path d="M83.40 185.01L86.80 185.01L85.10 182.12Z" fill="#d0101a"/>
<path d="M87.26 185.61L90.66 185.61L88.96 182.72Z" fill="#d0101a"/>
<path d="M91.11 214.81L94.51 214.81L92.81 211.92Z" fill="#d0101a"/>
<path d="M94.97 239.21L98.37 239.21L96.67 236.32Z" fill="#d0101a"/>
<path d="M98.82 241.41L102.22 241.41L100.52 238.52Z" fill="#d0101a"/>
<path d="M102.68 241.01L106.08 241.01L104.38 238.12Z" fill="#d0101a"/>
<path d="M106.53 240.21L109.93 240.21L108.23 237.32Z" fill="#d0101a"/>
<path d="M110.39 239.71L113.79 239.71L112.09 236.82Z" fill="#d0101a"/>
<path d="M114.24 238.91L117.64 238.91L115.94 236.02Z" fill="#d0101a"/>
<path d="M118.10 238.41L121.50 238.41L119.80 235.52Z" fill="#d0101a"/>
<path d="M121.96 236.81L125.36 236.81L123.66 233.92Z" fill="#d0101a"/>
<path d="M125.81 236.21L129.21 236.21L127.51 233.32Z" fill="#d0101a"/>
<path d="M129.67 235.51L133.07 235.51L131.37 232.62Z" fill="#d0101a"/>
<path d="M133.52 234.71L136.92 234.71L135.22 231.82Z" fill="#d0101a"/>
<path d="M137.38 234.11L140.78 234.11L139.08 231.22Z" fill="#d0101a"/>
<path d="M141.23 233.31L144.63 233.31L142.93 230.42Z" fill="#d0101a"/>
<path d="M145.09 232.21L148.49 232.21L146.79 229.32Z" fill="#d0101a"/>
<path d="M148.94 231.21L152.34 231.21L150.64 228.32Z" fill="#d0101a"/>
<path d="M152.80 231.31L156.20 231.31L154.50 228.42Z" fill="#d0101a"/>
<path d="M156.66 229.81L160.06 229.81L158.36 226.92Z" fill="#d0101a"/>
<path d="M160.51 230.11L163.91 230.11L162.21 227.22Z" fill="#d0101a"/>
<path d="M164.37 230.41L167.77 230.41L166.07 227.52Z" fill="#d0101a"/>
<path d="M168.22 229.41L171.62 229.41L169.92 226.52Z" fill="#d0101a"/>
<path d="M172.08 228.91L175.48 228.91L173.78 226.02Z" fill="#d0101a"/>
<path d="M175.93 228.91L179.33 228.91L177.63 226.02Z" fill="#d0101a"/>
<path d="M179.79 228.91L183.19 228.91L181.49 226.02Z" fill="#d0101a"/>
<path d="M183.64 228.41L187.04 228.41L185.34 225.52Z" fill="#d0101a"/>
<path d="M187.50 228.41L190.90 228.41L189.20 225.52Z" fill="#d0101a"/>
<path d="M191.36 228.41L194.76 228.41L193.06 225.52Z" fill="#d0101a"/>
<path d="M195.21 227.21L198.61 227.21L196.91 224.32Z" fill="#d0101a"/>
<path d="M199.07 224.61L202.47 224.61L200.77 221.72Z" fill="#d0101a"/>
<path d="M202.92 224.31L206.32 224.31L204.62 221.42Z" fill="#d0101a"/>
<path d="M206.78 224.31L210.18 224.31L208.48 221.42Z" fill="#d0101a"/>
<path d="M210.63 224.61L214.03 224.61L212.33 221.72Z" fill="#d0101a"/>
<path d="M214.49 224.61L217.89 224.61L216.19 221.72Z" fill="#d0101a"/>
<path d="M218.34 225.01L221.74 225.01L220.04 222.12Z" fill="#d0101a"/>
<text x="54.00" y="180.00" font-size="6.65" font-weight="bold" text-anchor="start" fill="#000" stroke="#000" stroke-width="0.1" >glutamate</text>
<line x1="76.50" y1="182.50" x2="76.50" y2="199.70" stroke="#111" stroke-width="1.1"/>
<path d="M74.30 199.20L78.70 199.20L76.50 202.00Z" fill="#111"/>
<text x="98.20" y="210.80" font-size="6.6" font-weight="bold" text-anchor="start" fill="#000" stroke="#000" stroke-width="0.1" >MK801 + NBQX</text>
<line x1="104.50" y1="212.30" x2="104.50" y2="230.00" stroke="#111" stroke-width="1.1"/>
<path d="M102.30 229.50L106.70 229.50L104.50 232.30Z" fill="#111"/>
<text x="177.50" y="187.30" font-size="6.7" font-weight="bold" text-anchor="start" fill="#000" stroke="#000" stroke-width="0.1" >ionomycin</text>
<line x1="193.50" y1="189.50" x2="193.50" y2="217.70" stroke="#111" stroke-width="1.1"/>
<path d="M191.30 217.20L195.70 217.20L193.50 220.00Z" fill="#111"/>
<text x="286.90" y="157.90" font-size="10.3" font-weight="bold" text-anchor="start" fill="#000" stroke="#000" stroke-width="0.12" >D</text>
<line x1="332.50" y1="169.10" x2="332.50" y2="255.10" stroke="#1e1e1e" stroke-width="1.1"/>
<line x1="330.10" y1="254.50" x2="332.50" y2="254.50" stroke="#1e1e1e" stroke-width="1.0"/>
<text x="325.00" y="257.00" font-size="7.9" font-weight="bold" text-anchor="end" fill="#000" stroke="#000" stroke-width="0.12" >0</text>
<line x1="330.10" y1="233.50" x2="332.50" y2="233.50" stroke="#1e1e1e" stroke-width="1.0"/>
<text x="325.00" y="235.62" font-size="7.9" font-weight="bold" text-anchor="end" fill="#000" stroke="#000" stroke-width="0.12" >1000</text>
<line x1="330.10" y1="211.50" x2="332.50" y2="211.50" stroke="#1e1e1e" stroke-width="1.0"/>
<text x="325.00" y="214.25" font-size="7.9" font-weight="bold" text-anchor="end" fill="#000" stroke="#000" stroke-width="0.12" >2000</text>
<line x1="330.10" y1="190.50" x2="332.50" y2="190.50" stroke="#1e1e1e" stroke-width="1.0"/>
<text x="325.00" y="192.88" font-size="7.9" font-weight="bold" text-anchor="end" fill="#000" stroke="#000" stroke-width="0.12" >3000</text>
<line x1="330.10" y1="169.50" x2="332.50" y2="169.50" stroke="#1e1e1e" stroke-width="1.0"/>
<text x="325.00" y="171.50" font-size="7.9" font-weight="bold" text-anchor="end" fill="#000" stroke="#000" stroke-width="0.12" >4000</text>
<line x1="503.50" y1="169.10" x2="503.50" y2="255.10" stroke="#1e1e1e" stroke-width="1.1"/>
<line x1="503.50" y1="254.50" x2="505.90" y2="254.50" stroke="#1e1e1e" stroke-width="1.0"/>
<text x="510.40" y="257.00" font-size="7.9" font-weight="bold" text-anchor="start" fill="#000" stroke="#000" stroke-width="0.12" >0</text>
<line x1="503.50" y1="240.50" x2="505.90" y2="240.50" stroke="#1e1e1e" stroke-width="1.0"/>
<text x="510.40" y="242.75" font-size="7.9" font-weight="bold" text-anchor="start" fill="#000" stroke="#000" stroke-width="0.12" >200</text>
<line x1="503.50" y1="226.50" x2="505.90" y2="226.50" stroke="#1e1e1e" stroke-width="1.0"/>
<text x="510.40" y="228.50" font-size="7.9" font-weight="bold" text-anchor="start" fill="#000" stroke="#000" stroke-width="0.12" >400</text>
<line x1="503.50" y1="211.50" x2="505.90" y2="211.50" stroke="#1e1e1e" stroke-width="1.0"/>
<text x="510.40" y="214.25" font-size="7.9" font-weight="bold" text-anchor="start" fill="#000" stroke="#000" stroke-width="0.12" >600</text>
<line x1="503.50" y1="197.50" x2="505.90" y2="197.50" stroke="#1e1e1e" stroke-width="1.0"/>
<text x="510.40" y="200.00" font-size="7.9" font-weight="bold" text-anchor="start" fill="#000" stroke="#000" stroke-width="0.12" >800</text>
<line x1="503.50" y1="183.50" x2="505.90" y2="183.50" stroke="#1e1e1e" stroke-width="1.0"/>
<text x="510.40" y="185.75" font-size="7.9" font-weight="bold" text-anchor="start" fill="#000" stroke="#000" stroke-width="0.12" >1000</text>
<line x1="503.50" y1="169.50" x2="505.90" y2="169.50" stroke="#1e1e1e" stroke-width="1.0"/>
<text x="510.40" y="171.50" font-size="7.9" font-weight="bold" text-anchor="start" fill="#000" stroke="#000" stroke-width="0.12" >1200</text>
<line x1="332.00" y1="254.50" x2="504.00" y2="254.50" stroke="#1e1e1e" stroke-width="1.1"/>
<line x1="332.50" y1="254.50" x2="332.50" y2="256.90" stroke="#1e1e1e" stroke-width="1.0"/>
<text x="332.00" y="266.40" font-size="7.9" font-weight="bold" text-anchor="middle" fill="#000" stroke="#000" stroke-width="0.12" >0</text>
<line x1="360.50" y1="254.50" x2="360.50" y2="256.90" stroke="#1e1e1e" stroke-width="1.0"/>
<text x="360.62" y="266.40" font-size="7.9" font-weight="bold" text-anchor="middle" fill="#000" stroke="#000" stroke-width="0.12" >30</text>
<line x1="389.50" y1="254.50" x2="389.50" y2="256.90" stroke="#1e1e1e" stroke-width="1.0"/>
<text x="389.23" y="266.40" font-size="7.9" font-weight="bold" text-anchor="middle" fill="#000" stroke="#000" stroke-width="0.12" >60</text>
<line x1="417.50" y1="254.50" x2="417.50" y2="256.90" stroke="#1e1e1e" stroke-width="1.0"/>
<text x="417.85" y="266.40" font-size="7.9" font-weight="bold" text-anchor="middle" fill="#000" stroke="#000" stroke-width="0.12" >90</text>
<line x1="446.50" y1="254.50" x2="446.50" y2="256.90" stroke="#1e1e1e" stroke-width="1.0"/>
<text x="446.47" y="266.40" font-size="7.9" font-weight="bold" text-anchor="middle" fill="#000" stroke="#000" stroke-width="0.12" >120</text>
<line x1="475.50" y1="254.50" x2="475.50" y2="256.90" stroke="#1e1e1e" stroke-width="1.0"/>
<text x="475.08" y="266.40" font-size="7.9" font-weight="bold" text-anchor="middle" fill="#000" stroke="#000" stroke-width="0.12" >150</text>
<line x1="503.50" y1="254.50" x2="503.50" y2="256.90" stroke="#1e1e1e" stroke-width="1.0"/>
<text x="503.70" y="266.40" font-size="7.9" font-weight="bold" text-anchor="middle" fill="#000" stroke="#000" stroke-width="0.12" >180</text>
<text x="424.60" y="282.40" font-size="8.3" font-weight="bold" text-anchor="middle" fill="#000" stroke="#000" stroke-width="0.12" >Time (min)</text>
<text transform="translate(297.90,209.00) rotate(-90)" x="0" y="3.06" font-size="8.5" font-weight="bold" text-anchor="middle" fill="#000" stroke="#000" stroke-width="0.12">Fluo-4FF Fluor (A.U.)</text>
<text transform="translate(538.50,211.20) rotate(-90)" x="0" y="3.06" font-size="8.5" font-weight="bold" text-anchor="middle" fill="#000" stroke="#000" stroke-width="0.12">cA-TAT Fluor (A.U.)</text>
<rect x="376.60" y="154.00" width="81.80" height="9.20" fill="#fff" stroke="#a0a0a0" stroke-width="0.8"/>
<line x1="382.70" y1="158.40" x2="388.70" y2="158.40" stroke="#de8088" stroke-width="0.6"/>
<path d="M384.10 159.74L387.30 159.74L385.70 157.02Z" fill="#d0101a"/>
<text x="389.50" y="161.00" font-size="6.75" font-weight="bold" text-anchor="start" fill="#000" stroke="#000" stroke-width="0.1" >Fluo-4FF</text>
<line x1="423.50" y1="158.40" x2="429.50" y2="158.40" stroke="#000" stroke-width="0.6"/>
<circle cx="426.50" cy="158.40" r="1.5" fill="#000"/>
<text x="430.30" y="161.00" font-size="6.85" font-weight="bold" text-anchor="start" fill="#000" stroke="#000" stroke-width="0.1" >cA-TAT</text>
<polyline points="332.00,251.30 335.82,250.80 339.63,250.80 343.45,251.00 347.26,250.80 351.08,250.80 354.89,250.80 358.71,251.00 362.52,248.20 366.34,248.20 370.16,247.50 373.97,245.60 377.79,225.50 381.60,230.00 385.42,246.50 389.23,246.00 393.05,246.00 396.86,237.20 400.68,237.60 404.50,245.60 408.31,216.20 412.13,222.10 415.94,216.20 419.76,210.30 423.57,206.10 427.39,205.10 431.20,203.50 435.02,202.20 438.84,201.20 442.65,199.90 446.47,200.20 450.28,198.60 454.10,198.10 457.91,198.90 461.73,197.80 465.54,197.30 469.36,194.70 473.18,196.70 476.99,189.00 480.81,187.00 484.62,187.00 488.44,187.40 492.25,187.70 496.07,190.00 499.88,190.50" fill="none" stroke="#de8088" stroke-width="0.7"/>
<polyline points="332.00,242.70 335.82,242.70 339.63,242.50 343.45,242.70 347.26,242.50 351.08,242.30 354.89,241.70 358.71,241.70 362.52,241.30 366.34,240.70 370.16,240.10 373.97,238.50 377.79,237.00 381.60,235.70 385.42,234.20 389.23,233.60 393.05,233.00 396.86,231.20 400.68,232.40 404.50,230.60 408.31,229.20 412.13,228.00 415.94,227.00 419.76,226.40 423.57,224.40 427.39,223.90 431.20,223.70 435.02,222.60 438.84,222.00 442.65,221.60 446.47,222.30 450.28,219.50 454.10,218.90 457.91,221.40 461.73,218.30 465.54,216.80 469.36,217.40 473.18,218.90 476.99,217.90 480.81,216.30 484.62,216.30 488.44,217.90 492.25,217.40 496.07,218.90 499.88,219.40" fill="none" stroke="#444" stroke-width="0.6"/>
<circle cx="332.00" cy="242.70" r="1.75" fill="#000"/>
<circle cx="335.82" cy="242.70" r="1.75" fill="#000"/>
<circle cx="339.63" cy="242.50" r="1.75" fill="#000"/>
<circle cx="343.45" cy="242.70" r="1.75" fill="#000"/>
<circle cx="347.26" cy="242.50" r="1.75" fill="#000"/>
<circle cx="351.08" cy="242.30" r="1.75" fill="#000"/>
<circle cx="354.89" cy="241.70" r="1.75" fill="#000"/>
<circle cx="358.71" cy="241.70" r="1.75" fill="#000"/>
<circle cx="362.52" cy="241.30" r="1.75" fill="#000"/>
<circle cx="366.34" cy="240.70" r="1.75" fill="#000"/>
<circle cx="370.16" cy="240.10" r="1.75" fill="#000"/>
<circle cx="373.97" cy="238.50" r="1.75" fill="#000"/>
<circle cx="377.79" cy="237.00" r="1.75" fill="#000"/>
<circle cx="381.60" cy="235.70" r="1.75" fill="#000"/>
<circle cx="385.42" cy="234.20" r="1.75" fill="#000"/>
<circle cx="389.23" cy="233.60" r="1.75" fill="#000"/>
<circle cx="393.05" cy="233.00" r="1.75" fill="#000"/>
<circle cx="396.86" cy="231.20" r="1.75" fill="#000"/>
<circle cx="400.68" cy="232.40" r="1.75" fill="#000"/>
<circle cx="404.50" cy="230.60" r="1.75" fill="#000"/>
<circle cx="408.31" cy="229.20" r="1.75" fill="#000"/>
<circle cx="412.13" cy="228.00" r="1.75" fill="#000"/>
<circle cx="415.94" cy="227.00" r="1.75" fill="#000"/>
<circle cx="419.76" cy="226.40" r="1.75" fill="#000"/>
<circle cx="423.57" cy="224.40" r="1.75" fill="#000"/>
<circle cx="427.39" cy="223.90" r="1.75" fill="#000"/>
<circle cx="431.20" cy="223.70" r="1.75" fill="#000"/>
<circle cx="435.02" cy="222.60" r="1.75" fill="#000"/>
<circle cx="438.84" cy="222.00" r="1.75" fill="#000"/>
<circle cx="442.65" cy="221.60" r="1.75" fill="#000"/>
<circle cx="446.47" cy="222.30" r="1.75" fill="#000"/>
<circle cx="450.28" cy="219.50" r="1.75" fill="#000"/>
<circle cx="454.10" cy="218.90" r="1.75" fill="#000"/>
<circle cx="457.91" cy="221.40" r="1.75" fill="#000"/>
<circle cx="461.73" cy="218.30" r="1.75" fill="#000"/>
<circle cx="465.54" cy="216.80" r="1.75" fill="#000"/>
<circle cx="469.36" cy="217.40" r="1.75" fill="#000"/>
<circle cx="473.18" cy="218.90" r="1.75" fill="#000"/>
<circle cx="476.99" cy="217.90" r="1.75" fill="#000"/>
<circle cx="480.81" cy="216.30" r="1.75" fill="#000"/>
<circle cx="484.62" cy="216.30" r="1.75" fill="#000"/>
<circle cx="488.44" cy="217.90" r="1.75" fill="#000"/>
<circle cx="492.25" cy="217.40" r="1.75" fill="#000"/>
<circle cx="496.07" cy="218.90" r="1.75" fill="#000"/>
<circle cx="499.88" cy="219.40" r="1.75" fill="#000"/>
<path d="M330.30 252.51L333.70 252.51L332.00 249.62Z" fill="#d0101a"/>
<path d="M334.12 252.01L337.52 252.01L335.82 249.12Z" fill="#d0101a"/>
<path d="M337.93 252.01L341.33 252.01L339.63 249.12Z" fill="#d0101a"/>
<path d="M341.75 252.21L345.15 252.21L343.45 249.32Z" fill="#d0101a"/>
<path d="M345.56 252.01L348.96 252.01L347.26 249.12Z" fill="#d0101a"/>
<path d="M349.38 252.01L352.78 252.01L351.08 249.12Z" fill="#d0101a"/>
<path d="M353.19 252.01L356.59 252.01L354.89 249.12Z" fill="#d0101a"/>
<path d="M357.01 252.21L360.41 252.21L358.71 249.32Z" fill="#d0101a"/>
<path d="M360.82 249.41L364.22 249.41L362.52 246.52Z" fill="#d0101a"/>
<path d="M364.64 249.41L368.04 249.41L366.34 246.52Z" fill="#d0101a"/>
<path d="M368.46 248.71L371.86 248.71L370.16 245.82Z" fill="#d0101a"/>
<path d="M372.27 246.81L375.67 246.81L373.97 243.92Z" fill="#d0101a"/>
<path d="M376.09 226.71L379.49 226.71L377.79 223.82Z" fill="#d0101a"/>
<path d="M379.90 231.21L383.30 231.21L381.60 228.32Z" fill="#d0101a"/>
<path d="M383.72 247.71L387.12 247.71L385.42 244.82Z" fill="#d0101a"/>
<path d="M387.53 247.21L390.93 247.21L389.23 244.32Z" fill="#d0101a"/>
<path d="M391.35 247.21L394.75 247.21L393.05 244.32Z" fill="#d0101a"/>
<path d="M395.16 238.41L398.56 238.41L396.86 235.52Z" fill="#d0101a"/>
<path d="M398.98 238.81L402.38 238.81L400.68 235.92Z" fill="#d0101a"/>
<path d="M402.80 246.81L406.20 246.81L404.50 243.92Z" fill="#d0101a"/>
<path d="M406.61 217.41L410.01 217.41L408.31 214.52Z" fill="#d0101a"/>
<path d="M410.43 223.31L413.83 223.31L412.13 220.42Z" fill="#d0101a"/>
<path d="M414.24 217.41L417.64 217.41L415.94 214.52Z" fill="#d0101a"/>
<path d="M418.06 211.51L421.46 211.51L419.76 208.62Z" fill="#d0101a"/>
<path d="M421.87 207.31L425.27 207.31L423.57 204.42Z" fill="#d0101a"/>
<path d="M425.69 206.31L429.09 206.31L427.39 203.42Z" fill="#d0101a"/>
<path d="M429.50 204.71L432.90 204.71L431.20 201.82Z" fill="#d0101a"/>
<path d="M433.32 203.41L436.72 203.41L435.02 200.52Z" fill="#d0101a"/>
<path d="M437.14 202.41L440.54 202.41L438.84 199.52Z" fill="#d0101a"/>
<path d="M440.95 201.11L444.35 201.11L442.65 198.22Z" fill="#d0101a"/>
<path d="M444.77 201.41L448.17 201.41L446.47 198.52Z" fill="#d0101a"/>
<path d="M448.58 199.81L451.98 199.81L450.28 196.92Z" fill="#d0101a"/>
<path d="M452.40 199.31L455.80 199.31L454.10 196.42Z" fill="#d0101a"/>
<path d="M456.21 200.11L459.61 200.11L457.91 197.22Z" fill="#d0101a"/>
<path d="M460.03 199.01L463.43 199.01L461.73 196.12Z" fill="#d0101a"/>
<path d="M463.84 198.51L467.24 198.51L465.54 195.62Z" fill="#d0101a"/>
<path d="M467.66 195.91L471.06 195.91L469.36 193.02Z" fill="#d0101a"/>
<path d="M471.48 197.91L474.88 197.91L473.18 195.02Z" fill="#d0101a"/>
<path d="M475.29 190.21L478.69 190.21L476.99 187.32Z" fill="#d0101a"/>
<path d="M479.11 188.21L482.51 188.21L480.81 185.32Z" fill="#d0101a"/>
<path d="M482.92 188.21L486.32 188.21L484.62 185.32Z" fill="#d0101a"/>
<path d="M486.74 188.61L490.14 188.61L488.44 185.72Z" fill="#d0101a"/>
<path d="M490.55 188.91L493.95 188.91L492.25 186.02Z" fill="#d0101a"/>
<path d="M494.37 191.21L497.77 191.21L496.07 188.32Z" fill="#d0101a"/>
<path d="M498.18 191.71L501.58 191.71L499.88 188.82Z" fill="#d0101a"/>
<text x="337.00" y="221.40" font-size="6.65" font-weight="bold" text-anchor="start" fill="#000" stroke="#000" stroke-width="0.1" >glutamate</text>
<line x1="359.50" y1="224.30" x2="359.50" y2="234.20" stroke="#111" stroke-width="1.1"/>
<path d="M357.30 233.70L361.70 233.70L359.50 236.50Z" fill="#111"/>
<text x="367.80" y="200.40" font-size="6.6" font-weight="bold" text-anchor="start" fill="#000" stroke="#000" stroke-width="0.1" >MK801 + NBQX</text>
<line x1="384.50" y1="203.40" x2="384.50" y2="219.80" stroke="#111" stroke-width="1.1"/>
<path d="M382.30 219.30L386.70 219.30L384.50 222.10Z" fill="#111"/>
<text x="458.50" y="173.00" font-size="6.7" font-weight="bold" text-anchor="start" fill="#000" stroke="#000" stroke-width="0.1" >ionomycin</text>
<line x1="473.50" y1="175.20" x2="473.50" y2="187.20" stroke="#111" stroke-width="1.1"/>
<path d="M471.30 186.70L475.70 186.70L473.50 189.50Z" fill="#111"/>
</g></svg></body></html>
